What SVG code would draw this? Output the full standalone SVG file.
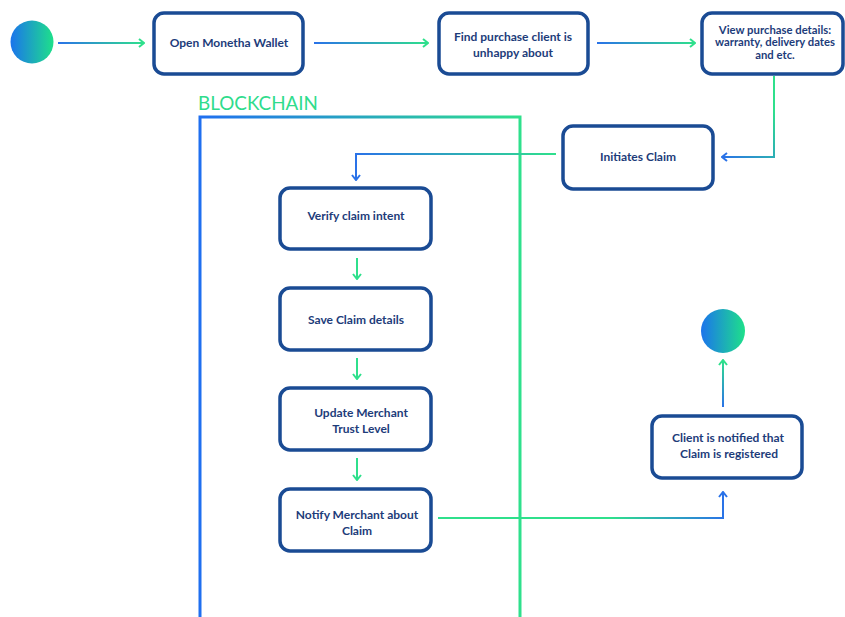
<svg xmlns="http://www.w3.org/2000/svg" width="845" height="617" viewBox="0 0 845 617">
<defs>
<style>
.box{fill:#fff;stroke:#1a4b94;stroke-width:3.5}
.t{font-family:Lato,"Liberation Sans",sans-serif;font-size:12px;font-weight:bold;fill:#1d3c7a;text-anchor:middle}
.s{font-size:11.3px}
.c{fill:none;stroke-width:2}
.lbl{font-family:Lato,"Liberation Sans",sans-serif;font-size:20px;fill:#2fdc8c}
</style>
<linearGradient id="dot" x1="0" y1="0" x2="1" y2="0"><stop offset="0" stop-color="#1b74ec"/><stop offset="1" stop-color="#1ee08a"/></linearGradient>
<linearGradient id="g1" gradientUnits="userSpaceOnUse" x1="58" y1="0" x2="144" y2="0"><stop offset="0" stop-color="#2a72e8"/><stop offset="1" stop-color="#2fe08c"/></linearGradient>
<linearGradient id="g2" gradientUnits="userSpaceOnUse" x1="314" y1="0" x2="428" y2="0"><stop offset="0" stop-color="#2a72e8"/><stop offset="1" stop-color="#2fe08c"/></linearGradient>
<linearGradient id="g3" gradientUnits="userSpaceOnUse" x1="597" y1="0" x2="695" y2="0"><stop offset="0" stop-color="#2a72e8"/><stop offset="1" stop-color="#2fe08c"/></linearGradient>
<linearGradient id="g4" gradientUnits="userSpaceOnUse" x1="774" y1="110" x2="722" y2="157"><stop offset="0" stop-color="#2fe08c"/><stop offset="1" stop-color="#2a72e8"/></linearGradient>
<linearGradient id="g5" gradientUnits="userSpaceOnUse" x1="556" y1="0" x2="356" y2="0"><stop offset="0" stop-color="#2fe08c"/><stop offset="1" stop-color="#2a72e8"/></linearGradient>
<linearGradient id="g9" gradientUnits="userSpaceOnUse" x1="438" y1="518" x2="723" y2="492"><stop offset="0.6" stop-color="#2fe08c"/><stop offset="1" stop-color="#2a72e8"/></linearGradient>
<linearGradient id="g10" gradientUnits="userSpaceOnUse" x1="0" y1="407" x2="0" y2="360"><stop offset="0" stop-color="#2a72e8"/><stop offset="1" stop-color="#2fe08c"/></linearGradient>
<linearGradient id="frame" gradientUnits="userSpaceOnUse" x1="200" y1="0" x2="520" y2="0"><stop offset="0" stop-color="#1f6ff0"/><stop offset="1" stop-color="#2fe08c"/></linearGradient>
<marker id="ag" viewBox="0 0 10 10" refX="9" refY="5" markerWidth="10" markerHeight="10" markerUnits="userSpaceOnUse" orient="auto"><path d="M4,1 L9,5 L4,9" fill="none" stroke="#2fe08c" stroke-width="2"/></marker>
<marker id="ab" viewBox="0 0 10 10" refX="9" refY="5" markerWidth="10" markerHeight="10" markerUnits="userSpaceOnUse" orient="auto"><path d="M4,1 L9,5 L4,9" fill="none" stroke="#2a72e8" stroke-width="2"/></marker>
</defs>
<rect width="845" height="617" fill="#fff"/>

<g id="blockchain">
<path d="M200,625 V117 H520 V625" fill="none" stroke="url(#frame)" stroke-width="3"/>
<text class="lbl" x="198" y="110" textLength="120" lengthAdjust="spacingAndGlyphs">BLOCKCHAIN</text>
</g>

<g id="connectors">
<path class="c" d="M58,43 H144" stroke="url(#g1)" marker-end="url(#ag)"/>
<path class="c" d="M314,43 H428" stroke="url(#g2)" marker-end="url(#ag)"/>
<path class="c" d="M597,43 H695" stroke="url(#g3)" marker-end="url(#ag)"/>
<path class="c" d="M774,76 V157 H722" stroke="url(#g4)" marker-end="url(#ab)"/>
<path class="c" d="M556,154 H356 V180" stroke="url(#g5)" marker-end="url(#ab)"/>
<path class="c" d="M357,258 V279" stroke="#2fe08c" marker-end="url(#ag)"/>
<path class="c" d="M357,358 V379" stroke="#2fe08c" marker-end="url(#ag)"/>
<path class="c" d="M357,458 V480" stroke="#2fe08c" marker-end="url(#ag)"/>
<path class="c" d="M438,518 H723 V492" stroke="url(#g9)" marker-end="url(#ab)"/>
<path class="c" d="M723,407 V360" stroke="url(#g10)" marker-end="url(#ag)"/>
</g>

<g id="start"><circle cx="32" cy="42" r="21.5" fill="url(#dot)"/></g>

<g id="open-wallet"><rect class="box" x="154" y="13" width="149" height="61" rx="10"/><text class="t" x="229" y="47">Open Monetha Wallet</text></g>
<g id="find-purchase"><rect class="box" x="439" y="13" width="149" height="61" rx="10"/><text class="t" x="513" y="41">Find purchase client is</text><text class="t" x="513" y="57">unhappy about</text></g>
<g id="view-details"><rect class="box" x="702" y="13" width="141" height="61" rx="10"/><text class="t s" x="775" y="33.5">View purchase details:</text><text class="t s" x="775" y="46">warranty, delivery dates</text><text class="t s" x="775" y="58.5">and etc.</text></g>
<g id="initiates-claim"><rect class="box" x="563" y="126" width="150" height="63" rx="10"/><text class="t" x="638" y="161">Initiates Claim</text></g>
<g id="verify"><rect class="box" x="280" y="188" width="151" height="61" rx="10"/><text class="t" x="356" y="220">Verify claim intent</text></g>
<g id="save"><rect class="box" x="280" y="288" width="151" height="62" rx="10"/><text class="t" x="356" y="324">Save Claim details</text></g>
<g id="update"><rect class="box" x="280" y="388" width="151" height="62" rx="10"/><text class="t" x="361" y="417">Update Merchant</text><text class="t" x="361" y="433">Trust Level</text></g>
<g id="notify"><rect class="box" x="280" y="489" width="151" height="62" rx="10"/><text class="t" x="357" y="519">Notify Merchant about</text><text class="t" x="357" y="535">Claim</text></g>
<g id="client-notified"><rect class="box" x="652" y="416" width="150" height="62" rx="10"/><text class="t" x="728" y="442">Client is notified that</text><text class="t" x="729" y="458">Claim is registered</text></g>
<g id="end"><circle cx="723" cy="331" r="22" fill="url(#dot)"/></g>
</svg>
